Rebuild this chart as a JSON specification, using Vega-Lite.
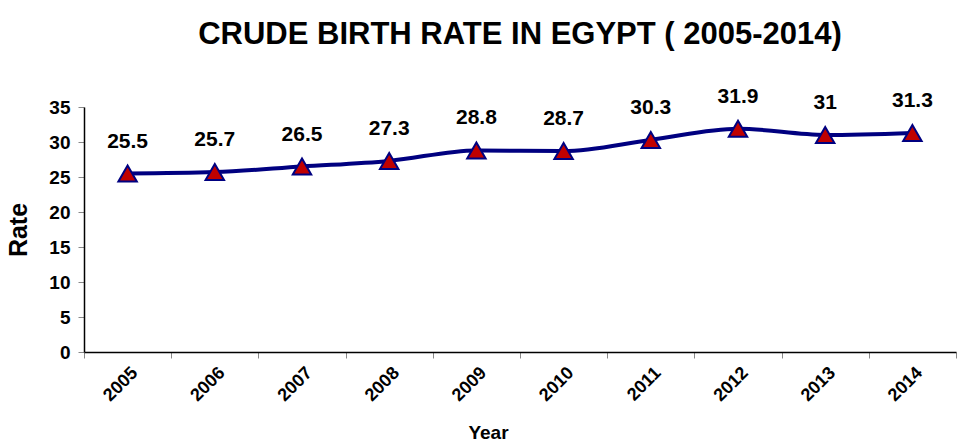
{
  "$schema": "https://vega.github.io/schema/vega-lite/v6.json",
  "width": 872,
  "height": 245,
  "autosize": {"type": "none"},
  "padding": {"left": 84, "top": 107, "right": 2, "bottom": 89},
  "background": "white",
  "config": {"view": {"stroke": null}, "font": "Liberation Sans"},
  "title": {
    "text": "CRUDE BIRTH RATE IN EGYPT ( 2005-2014)",
    "fontSize": 31,
    "fontWeight": "bold",
    "font": "Liberation Sans",
    "color": "black",
    "anchor": "middle",
    "frame": "group",
    "offset": 35
  },
  "data": {
    "values": [
      {"Year": "2005", "Rate": 25.5},
      {"Year": "2006", "Rate": 25.7},
      {"Year": "2007", "Rate": 26.5},
      {"Year": "2008", "Rate": 27.3},
      {"Year": "2009", "Rate": 28.8},
      {"Year": "2010", "Rate": 28.7},
      {"Year": "2011", "Rate": 30.3},
      {"Year": "2012", "Rate": 31.9},
      {"Year": "2013", "Rate": 31},
      {"Year": "2014", "Rate": 31.3}
    ]
  },
  "encoding": {
    "x": {
      "field": "Year",
      "type": "ordinal",
      "scale": {"paddingInner": 0, "paddingOuter": 0},
      "axis": {
        "title": "Year",
        "titleFontSize": 19,
        "titleFontWeight": "bold",
        "titleColor": "black",
        "titleX": 404,
        "titleY": 71,
        "labelAngle": -45,
        "labelAlign": "right",
        "labelBaseline": "middle",
        "labelFontSize": 18,
        "labelFontWeight": "bold",
        "labelColor": "black",
        "labelPadding": 12,
        "labelOffset": 7,
        "tickBand": "extent",
        "tickSize": 6,
        "tickColor": "#888888",
        "domainColor": "black",
        "domainWidth": 1.5,
        "grid": false
      }
    },
    "y": {
      "field": "Rate",
      "type": "quantitative",
      "scale": {"domain": [0, 35], "nice": false},
      "axis": {
        "title": "Rate",
        "titleFontSize": 25,
        "titleFontWeight": "bold",
        "titleColor": "black",
        "titleX": -53,
        "values": [0, 5, 10, 15, 20, 25, 30, 35],
        "labelFontSize": 19,
        "labelFontWeight": "bold",
        "labelColor": "black",
        "labelPadding": 8,
        "tickSize": 6,
        "tickColor": "#888888",
        "domainColor": "black",
        "domainWidth": 1.5,
        "grid": false
      }
    }
  },
  "layer": [
    {
      "mark": {"type": "line", "color": "#000080", "strokeWidth": 4, "interpolate": "monotone"}
    },
    {
      "mark": {"type": "point", "shape": "triangle-up", "filled": true, "fill": "#C00000", "stroke": "#000080", "strokeWidth": 2, "size": 340, "opacity": 1}
    },
    {
      "mark": {"type": "text", "dy": -32, "fontSize": 21, "fontWeight": "bold", "color": "black", "font": "Liberation Sans"},
      "encoding": {"text": {"field": "Rate", "type": "quantitative"}}
    }
  ]
}
